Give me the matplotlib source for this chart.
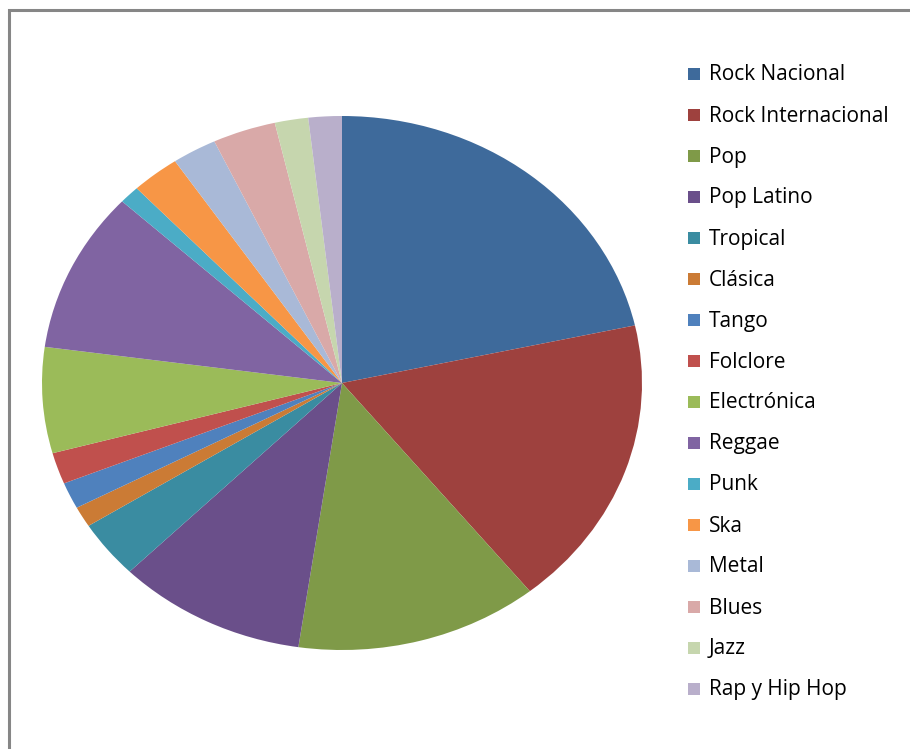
import matplotlib
matplotlib.use("Agg")
import matplotlib.pyplot as plt
from matplotlib.patches import Rectangle

# share of listeners per genre (%)
generos = ["Rock Nacional", "Rock Internacional", "Pop", "Pop Latino", "Tropical",
           "Clásica", "Tango", "Folclore", "Electrónica", "Reggae", "Punk", "Ska",
           "Metal", "Blues", "Jazz", "Rap y Hip Hop"]
valores = [21.55, 17.7, 13.1, 10.2, 3.5, 1.25, 1.6, 1.9, 6.4, 9.75, 1.1, 2.6,
           2.4, 3.4, 1.8, 1.8]
colores = ["#3E6A9B", "#9E413E", "#7F9A48", "#6A4F8A", "#3A8CA1", "#CB7B35",
           "#4F81BD", "#C0504D", "#9BBB59", "#8064A2", "#4BACC6", "#F79646",
           "#A9B9D7", "#D9A9A8", "#C6D6AE", "#B9AFCB"]

W, H = 910, 749
fig = plt.figure(figsize=(W / 100, H / 100), dpi=100)

# pie axes placed in pixels, stretched horizontally
cx, cy, rx, ry = 342, 383, 300, 267
ax = fig.add_axes([(cx - rx) / W, (H - cy - ry) / H, 2 * rx / W, 2 * ry / H])
ax.pie(valores, colors=colores, startangle=90, counterclock=False,
       wedgeprops=dict(linewidth=0))
ax.set_aspect("auto")
ax.set_xlim(-1, 1)
ax.set_ylim(-1, 1)
ax.axis("off")

# chart area border (right/bottom run off the canvas)
fig.add_artist(Rectangle((8.5 / W, -0.1), 1.2, 1.1 - 10 / H, transform=fig.transFigure,
                         fill=False, edgecolor="#868686", linewidth=2.2))

# legend
y0, paso = 74, 41
for i, (nombre, color) in enumerate(zip(generos, colores)):
    y = y0 + i * paso
    fig.add_artist(Rectangle((688 / W, (H - y - 6) / H), 12 / W, 12 / H,
                             transform=fig.transFigure, facecolor=color,
                             edgecolor="none"))
    fig.text(709 / W, (H - y - 1) / H, nombre, fontsize=15, family="Open Sans",
             va="center", ha="left", color="black")

fig.savefig("out.png", dpi=100)
